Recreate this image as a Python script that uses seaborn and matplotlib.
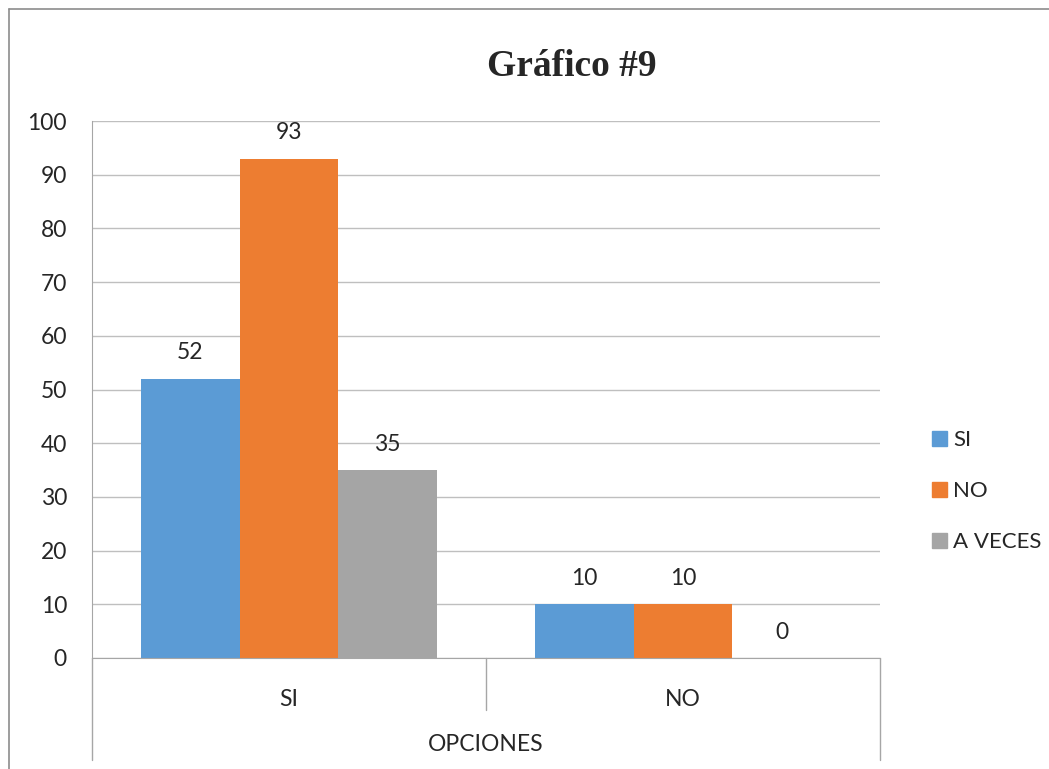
import numpy as np
import pandas as pd
import seaborn as sns
import matplotlib.pyplot as plt
from matplotlib.lines import Line2D

# data
opciones = ["SI", "NO"]
serie_si = [52, 10]
serie_no = [93, 10]
serie_aveces = [35, 0]
series = ["SI", "NO", "A VECES"]
colores = ["#5B9BD5", "#ED7D31", "#A5A5A5"]

sns.set_style("white")
plt.rcParams['font.family'] = ['Lato', 'DejaVu Sans']

df = pd.DataFrame({
    "opcion": opciones * 3,
    "serie": ["SI"] * 2 + ["NO"] * 2 + ["A VECES"] * 2,
    "valor": serie_si + serie_no + serie_aveces,
})

fig = plt.figure(figsize=(10.49, 7.69), dpi=100)
ax = fig.add_axes([92 / 1049, 1 - 658 / 769, (880 - 92) / 1049, (658 - 121) / 769])

sns.barplot(data=df, x="opcion", y="valor", hue="serie", order=opciones,
            hue_order=series, palette=colores, width=0.75, linewidth=0,
            saturation=1, errorbar=None, ax=ax, legend=True)

ax.set_xlim(-0.5, 1.5)
ax.set_ylim(0, 100)
ax.set_yticks(np.arange(0, 101, 10))
ax.yaxis.grid(True, color="#BFBFBF", lw=1)
ax.set_axisbelow(True)

axis_col = "#A6A6A6"
for s in ["top", "right"]:
    ax.spines[s].set_visible(False)
ax.spines["left"].set_color(axis_col)
ax.spines["bottom"].set_color(axis_col)
ax.tick_params(axis="y", length=6, color=axis_col, labelsize=16.5, pad=12, direction="out")
ax.tick_params(axis="x", length=0, labelsize=16.5, pad=22)
ax.set_xlabel("")
ax.set_ylabel("")

for cont in ax.containers:
    ax.bar_label(cont, fmt="%g", padding=11, fontsize=16.5)

# category dividers below the axis
tr = ax.get_xaxis_transform()
ax.plot([-0.5, -0.5], [0, -0.19], transform=tr, color=axis_col, lw=1, clip_on=False)
ax.plot([0.5, 0.5], [0, -0.097], transform=tr, color=axis_col, lw=1, clip_on=False)
ax.plot([1.5, 1.5], [0, -0.19], transform=tr, color=axis_col, lw=1, clip_on=False)
ax.text(0.5, -0.162, "OPCIONES", transform=tr, ha="center", va="center", fontsize=16.5)

ax.legend_.remove()
handles = [plt.Rectangle((0, 0), 1, 1, color=c) for c in colores]
fig.legend(handles, series, loc="center left", bbox_to_anchor=(921 / 1049, 1 - 491 / 769),
           frameon=False, fontsize=16, handlelength=0.65, handleheight=0.65,
           handletextpad=0.3, labelspacing=1.4, borderpad=0)

fig.text(572 / 1049, 1 - 66 / 769, "Gráfico #9", ha="center", va="center",
         fontsize=27, fontweight="bold", family="Liberation Serif")

# outer frame of the chart area
fig.add_artist(Line2D([9 / 1049, 1], [1 - 9 / 769, 1 - 9 / 769], color="#8C8C8C", lw=1.2))
fig.add_artist(Line2D([9 / 1049, 9 / 1049], [0, 1 - 9 / 769], color="#8C8C8C", lw=1.2))

fig.savefig("out.png", dpi=100)
